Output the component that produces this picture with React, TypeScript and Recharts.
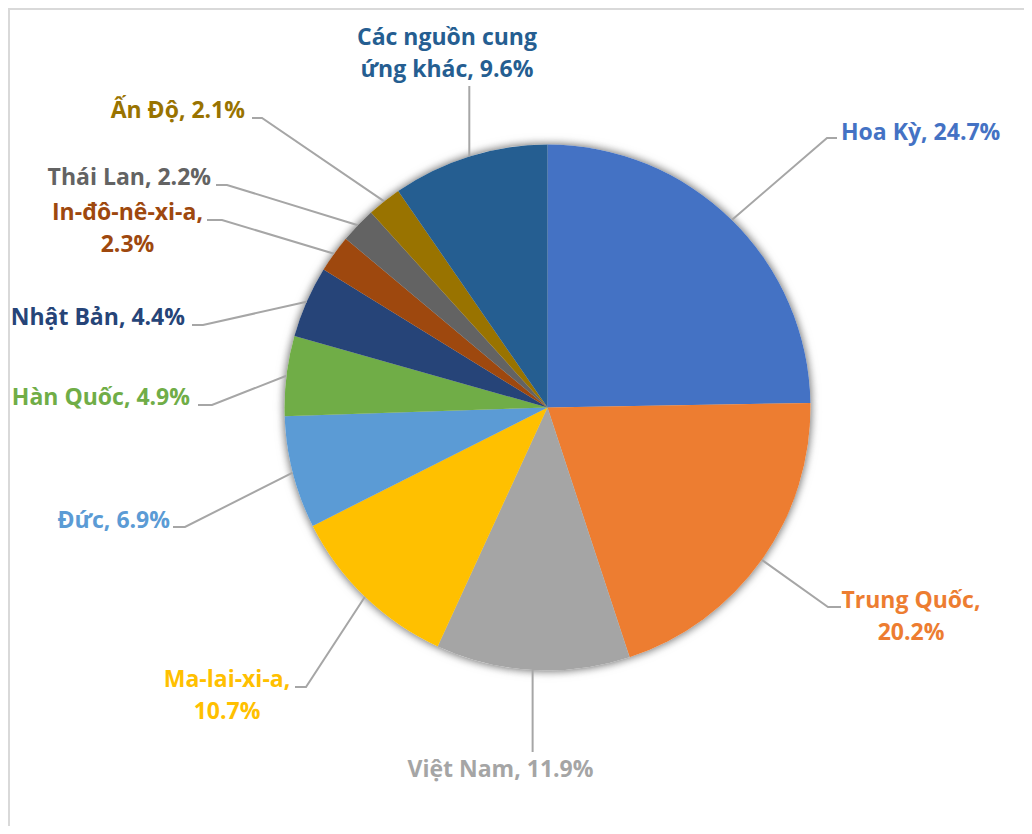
import { PieChart, Pie, Cell } from 'recharts';

const categories = [
  'Hoa Kỳ',
  'Trung Quốc',
  'Việt Nam',
  'Ma-lai-xi-a',
  'Đức',
  'Hàn Quốc',
  'Nhật Bản',
  'In-đô-nê-xi-a',
  'Thái Lan',
  'Ấn Độ',
  'Các nguồn cung ứng khác',
];
const shares = [24.7, 20.2, 11.9, 10.7, 6.9, 4.9, 4.4, 2.3, 2.2, 2.1, 9.6];
const colors = [
  '#4472C4', '#ED7D31', '#A5A5A5', '#FFC000', '#5B9BD5', '#70AD47',
  '#264478', '#9E480E', '#636363', '#997300', '#255E91',
];

const data = categories.map((name, i) => ({ name, value: shares[i] }));

// where each label sits, as offsets from the pie centre
// ex/ey = elbow of the leader line, hx = end of the short horizontal bit,
// tx/ty = text anchor / first baseline, breakAfter = words on first line
const labelLayout: any[] = [
  { ex: 279.5, ey: -269.5, hx: 289.5, tx: 293.5, ty: -267.5, anchor: 'start', breakAfter: 0 },
  { ex: 280.5, ey: 199.5, hx: 293.5, tx: 363.5, ty: 200.5, anchor: 'middle', breakAfter: 2 },
  { vertical: true, ey: 344.5, tx: -47, ty: 369.5, anchor: 'middle', breakAfter: 0 },
  { ex: -241.5, ey: 279.5, hx: -252.5, tx: -320.5, ty: 279.5, anchor: 'middle', breakAfter: 1 },
  { ex: -362.5, ey: 119.5, hx: -374.5, tx: -377.5, ty: 120, anchor: 'end', breakAfter: 0 },
  { ex: -335.5, ey: -2.5, hx: -349.5, tx: -357.5, ty: -2.5, anchor: 'end', breakAfter: 0 },
  { ex: -344.5, ey: -82.5, hx: -355.5, tx: -362.5, ty: -82.5, anchor: 'end', breakAfter: 0 },
  { ex: -325.5, ey: -187.5, hx: -340.5, tx: -420, ty: -187.5, anchor: 'middle', breakAfter: 1 },
  { ex: -320.5, ey: -222.5, hx: -331.5, tx: -336.5, ty: -222.5, anchor: 'end', breakAfter: 0 },
  { ex: -285.5, ey: -289.5, hx: -295.5, tx: -302.5, ty: -289.5, anchor: 'end', breakAfter: 0 },
  { vertical: true, ey: -321.5, tx: -100.5, ty: -362.5, anchor: 'middle', breakAfter: 3 },
];

const RAD = Math.PI / 180;
const FONT = "'Open Sans', 'Noto Sans', sans-serif";

const renderLabel = (props: any) => {
  const { cx, cy, midAngle, outerRadius, index, name, value } = props;
  const l = labelLayout[index];
  const sx = cx + outerRadius * Math.cos(-midAngle * RAD);
  const sy = cy + outerRadius * Math.sin(-midAngle * RAD);
  const words = `${name}, ${Number(value).toFixed(1)}%`.split(' ');
  const lines = l.breakAfter
    ? [words.slice(0, l.breakAfter).join(' '), words.slice(l.breakAfter).join(' ')]
    : [words.join(' ')];
  const pts = l.vertical
    ? `${sx},${sy} ${sx},${cy + l.ey}`
    : `${sx},${sy} ${cx + l.ex},${cy + l.ey} ${cx + l.hx},${cy + l.ey}`;
  const tx = cx + l.tx;
  return (
    <g key={`lbl-${index}`}>
      <polyline points={pts} fill="none" stroke="#A6A6A6" strokeWidth={2} />
      <text
        x={tx}
        y={cy + l.ty}
        textAnchor={l.anchor}
        fill={colors[index]}
        fontSize={23}
        fontWeight={700}
        fontFamily={FONT}
      >
        {lines.map((s, k) => (
          <tspan key={k} x={tx} dy={k === 0 ? 0 : 31.5}>
            {s}
          </tspan>
        ))}
      </text>
    </g>
  );
};

export default function App() {
  return (
    <div style={{ position: 'relative', width: 1024, height: 818 }}>
      <style>{'.pie-shadow { filter: drop-shadow(0 0 4px rgba(0,0,0,0.35)); }'}</style>
      <div
        style={{
          position: 'absolute',
          left: 0,
          top: 0,
          width: 1024,
          height: 818,
          borderTop: '2px solid #D9D9D9',
          borderLeft: '2px solid #D9D9D9',
          boxSizing: 'border-box',
          pointerEvents: 'none',
        }}
      />
      <PieChart width={1024} height={818} margin={{ top: 0, right: 0, bottom: 0, left: 0 }}>
        <Pie
          data={data}
          dataKey="value"
          nameKey="name"
          cx={539.5}
          cy={399.5}
          outerRadius={263}
          startAngle={90}
          endAngle={-270}
          fill="#ffffff"
          stroke="none"
          className="pie-shadow"
          isAnimationActive={false}
        />
        <Pie
          data={data}
          dataKey="value"
          nameKey="name"
          cx={539.5}
          cy={399.5}
          outerRadius={263}
          startAngle={90}
          endAngle={-270}
          stroke="none"
          label={renderLabel}
          labelLine={false}
          isAnimationActive={false}
        >
          {data.map((d, i) => (
            <Cell key={d.name} fill={colors[i]} />
          ))}
        </Pie>
      </PieChart>
    </div>
  );
}
